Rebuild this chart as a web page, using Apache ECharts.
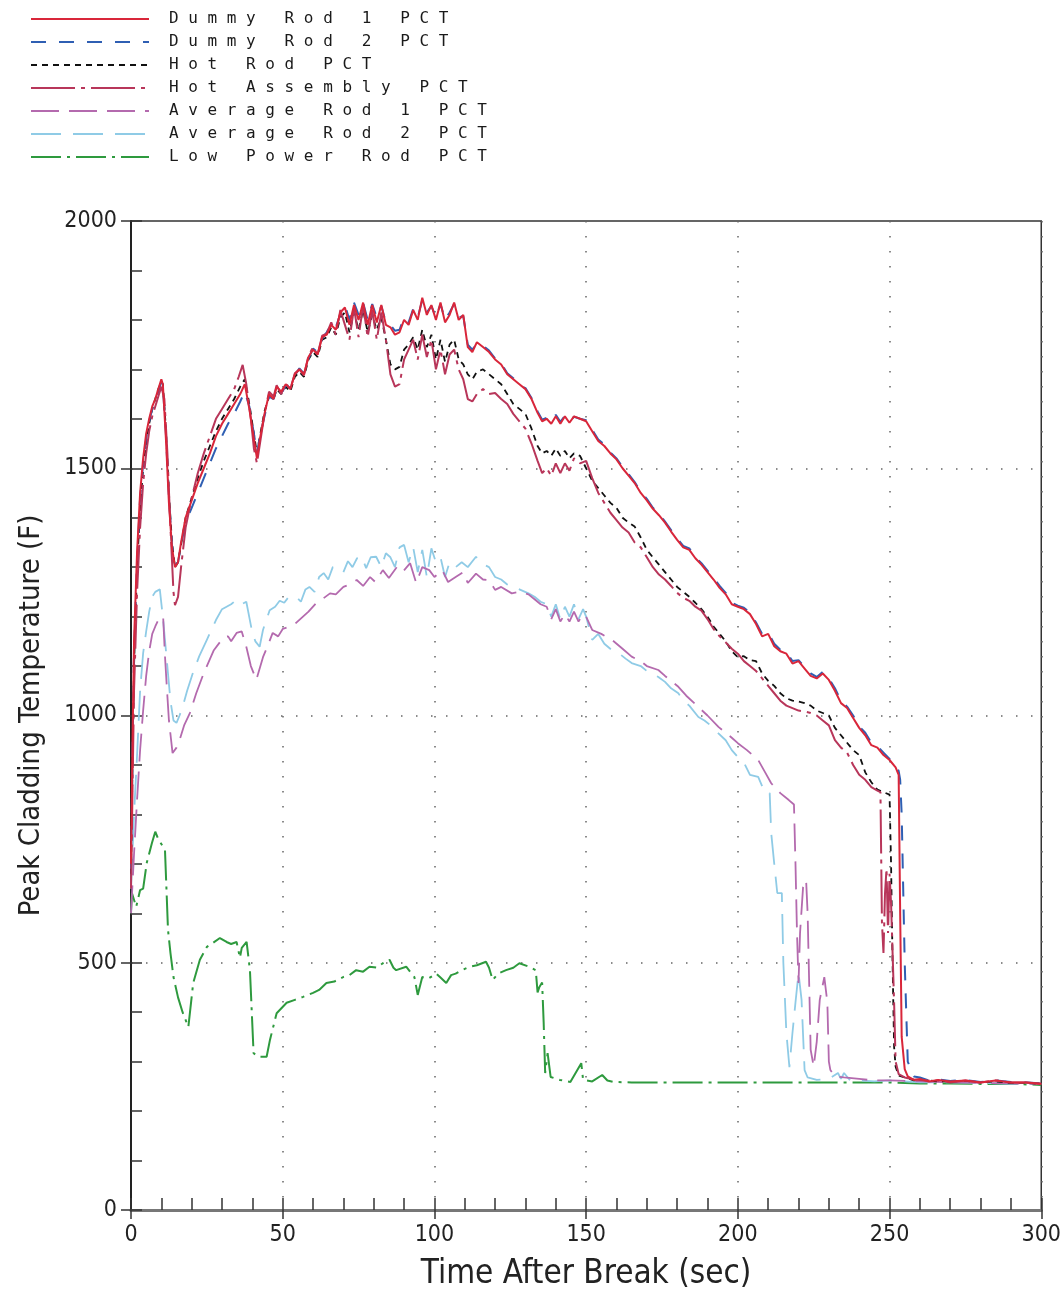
<!DOCTYPE html>
<html><head><meta charset="utf-8">
<script src="https://cdn.jsdelivr.net/npm/echarts@6/dist/echarts.min.js"></script>
<style>html,body{margin:0;padding:0;background:#fff}#c{width:1064px;height:1298px}</style>
</head><body><div id="c"></div>
<script>
// ---------------- DATA ----------------
const seriesNames = ['Dummy Rod 1 PCT','Dummy Rod 2 PCT','Hot Rod PCT','Hot Assembly PCT','Average Rod 1 PCT','Average Rod 2 PCT','Low Power Rod PCT'];
const xTickLabels = [0,50,100,150,200,250,300];
const yTickLabels = [0,500,1000,1500,2000];

const dummyT = [0,0.5,1,2,3,4,5,6,7,8,9,10,
  10.5,11.5,12.5,13.5,14.5,15.5,16.5,18,
  20,22,24,26,28,30,32,34,36,
  37.5,39,40.5,41.5,42.5,44,45.5,47,48,49.5,
  51,52.5,54,55.5,57,58.5,60,61.5,63,64.5,
  66,67.5,69,70.5,72,73.5,75,76.5,78,79.5,
  81,82.5,84,85.5,87,88.5,90,91.5,93,94.5,
  96,97.5,99,100.5,102,103.5,105,106.5,108,109.5,
  111,112.5,114,116,118,120,122,124,126,128,
  130,132,134,135.5,137,138.5,140,141.5,143,144.5,
  146,148,150,152,154,156,158,160,162,164,
  166,168,170,172,174,176,178,180,182,184,
  186,188,190,192,194,196,198,200,202,204,
  206,208,210,212,214,216,218,220,222,224,
  226,228,230,232,234,236,238,240,242,244,
  246,248,250,252,253,253.5,254,255,256,258,
  260,263,266,270,275,280,285,290,295,300];
const dummy1V = [700,950,1150,1330,1450,1520,1570,1600,1625,1640,1660,1680,
  1670,1560,1430,1340,1300,1310,1350,1400,
  1435,1470,1500,1530,1565,1590,1610,1630,1650,
  1670,1620,1560,1520,1560,1610,1650,1640,1665,1655,
  1670,1660,1690,1700,1690,1725,1740,1730,1765,1770,
  1790,1780,1815,1825,1790,1830,1800,1835,1790,1830,
  1795,1830,1790,1785,1770,1775,1800,1790,1820,1800,
  1845,1810,1830,1800,1835,1795,1810,1835,1800,1810,
  1745,1735,1755,1745,1735,1720,1710,1690,1680,1670,
  1660,1640,1612,1595,1600,1590,1605,1590,1605,1592,
  1605,1600,1595,1575,1555,1545,1530,1518,1500,1485,
  1470,1450,1435,1418,1405,1390,1372,1355,1340,1335,
  1318,1305,1290,1275,1258,1245,1225,1220,1215,1205,
  1185,1160,1165,1140,1130,1125,1105,1110,1095,1080,
  1075,1085,1072,1050,1025,1015,995,975,960,940,
  935,920,910,895,880,600,350,285,270,263,
  265,260,263,260,262,258,262,258,258,255];
const dummy2V = [690,930,1130,1310,1440,1510,1560,1595,1620,1635,1655,1675,
  1665,1570,1440,1345,1305,1310,1345,1390,
  1420,1450,1480,1510,1540,1565,1590,1610,1635,
  1655,1625,1570,1530,1565,1605,1645,1640,1660,1650,
  1668,1662,1688,1702,1692,1722,1742,1735,1762,1775,
  1792,1785,1812,1830,1800,1835,1810,1835,1800,1832,
  1805,1828,1795,1790,1778,1780,1805,1795,1822,1805,
  1840,1815,1828,1805,1832,1800,1815,1832,1805,1808,
  1750,1740,1752,1748,1738,1722,1712,1692,1682,1668,
  1662,1642,1615,1598,1602,1595,1608,1594,1606,1595,
  1604,1600,1597,1578,1558,1548,1532,1520,1503,1488,
  1472,1452,1438,1420,1408,1392,1375,1358,1343,1338,
  1320,1308,1293,1278,1262,1248,1228,1222,1218,1208,
  1188,1165,1168,1145,1133,1128,1110,1112,1098,1085,
  1078,1088,1075,1055,1030,1018,1000,978,965,945,
  938,925,912,898,888,870,800,500,300,270,
  268,262,264,261,263,259,262,259,258,256];

const hotRodT = [0,0.5,1,2,3,4,5,6,7,8,9,10,
  10.5,11.5,12.5,13.5,14.5,15.5,16.5,18,
  20,22,24,26,28,30,32,34,36,
  37.5,39,40.5,41.5,42.5,44,45.5,47,48,49.5,
  51,52.5,54,55.5,57,58.5,60,61.5,63,64.5,
  66,67.5,69,70.5,72,73.5,75,76.5,78,79.5,
  81,82.5,84,85.5,87,88.5,90,91.5,93,94.5,
  96,97.5,99,100.5,102,103.5,105,106.5,108,109.5,
  111,112.5,114,116,118,120,122,124,126,128,
  130,132,134,135.5,137,138.5,140,141.5,143,144.5,
  146,148,150,152,154,156,158,160,162,164,
  166,168,170,172,174,176,178,180,182,184,
  186,188,190,192,194,196,198,200,202,204,
  206,208,210,212,214,216,218,220,222,224,
  226,228,230,232,234,236,238,240,242,244,
  246,248,250,250.5,251,251.5,252,253,255,258,
  262,266,270,275,280,285,290,295,300];
const hotRodV = [680,900,1100,1300,1420,1500,1550,1590,1620,1640,1660,1675,
  1670,1580,1450,1350,1300,1310,1345,1400,
  1440,1480,1515,1545,1575,1600,1620,1640,1665,
  1680,1630,1570,1530,1565,1615,1645,1640,1660,1650,
  1665,1655,1685,1695,1685,1720,1735,1725,1760,1765,
  1785,1770,1805,1815,1775,1815,1780,1820,1775,1810,
  1780,1805,1760,1710,1700,1705,1740,1750,1765,1740,
  1780,1745,1770,1720,1760,1715,1750,1760,1720,1710,
  1690,1680,1695,1700,1690,1680,1670,1650,1630,1620,
  1610,1580,1545,1530,1535,1525,1540,1525,1535,1520,
  1530,1525,1500,1475,1460,1445,1430,1420,1400,1390,
  1382,1360,1335,1320,1305,1290,1275,1260,1250,1240,
  1228,1215,1200,1180,1165,1150,1130,1118,1120,1112,
  1110,1085,1070,1060,1045,1035,1030,1028,1025,1020,
  1010,1005,1000,975,960,945,930,920,885,865,
  850,845,840,700,500,330,290,272,268,262,
  263,260,260,261,258,260,257,257,255];

const hotAsmT = [0,0.5,1,2,3,4,5,6,7,8,9,10,
  11,12,13,14,14.5,15.5,16.5,18,
  20,22,24,26,28,30,32,34,
  35.5,36.8,38,39.5,40.5,41.5,42.5,44,45.5,47,
  48,49.5,51,52.5,54,55.5,57,58.5,60,61.5,
  63,64.5,66,67.5,69,70.5,72,73.5,75,76.5,
  78,79.5,81,82.5,84,85.5,87,88.5,90,91.5,
  93,94.5,96,97.5,99,100.5,102,103.5,105,106.5,
  108,109.5,111,112.5,114,116,118,120,122,124,
  126,128,130,132,134,135.5,137,138.5,140,141.5,
  143,144.5,146,148,150,152,154,156,158,160,
  162,164,166,168,170,172,174,176,178,180,
  182,184,186,188,190,192,194,196,198,200,
  202,204,206,208,210,212,214,216,218,220,
  222,224,226,228,230,232,234,236,238,240,
  242,244,246,247,247.5,248,248.5,249,249.5,250,
  250.5,251,251.5,252,253,255,258,262,266,270,
  275,280,285,290,295,300];
const hotAsmV = [650,850,1050,1250,1380,1470,1530,1575,1605,1625,1645,1665,
  1640,1530,1380,1250,1223,1240,1300,1380,
  1440,1490,1530,1565,1600,1620,1640,1660,
  1685,1709,1670,1600,1540,1510,1550,1610,1655,1645,
  1668,1650,1672,1660,1692,1700,1688,1728,1745,1730,
  1768,1772,1795,1770,1820,1790,1760,1825,1765,1830,
  1765,1820,1760,1815,1760,1690,1665,1670,1720,1740,
  1760,1720,1770,1725,1760,1700,1740,1690,1730,1740,
  1700,1680,1640,1635,1650,1660,1650,1652,1640,1630,
  1610,1595,1580,1550,1515,1490,1500,1485,1510,1490,
  1510,1495,1520,1510,1515,1480,1450,1430,1410,1395,
  1380,1370,1350,1340,1320,1300,1285,1275,1262,1248,
  1238,1232,1220,1212,1195,1175,1160,1148,1135,1125,
  1110,1100,1090,1075,1060,1045,1030,1020,1015,1010,
  1008,1005,1000,990,980,950,935,925,900,880,
  870,855,848,845,580,520,640,690,560,680,
  620,520,420,300,275,268,264,262,262,258,
  262,258,262,258,258,256];

const avg1T = [0,1,2,3,4,5,6,7,8,9.5,
  10.6,11.2,11.8,12.5,13.7,15,16,17.5,19.4,21.5,
  24,27.3,30.6,32,33,34.8,36.5,38,39.5,41.3,
  43.5,45,46.7,48.5,50,52,54,56.5,58.5,61,
  63,65.6,67.5,70,72,74.4,76.5,78.8,80.5,83,
  85,87.6,89.5,92,94,96,98.3,100,102.6,104.5,
  107,109.5,111,113.7,116,118,120,122,125.5,128,
  131,133,135,137,138.5,140,141.5,143,144.5,146,
  147.5,149,150,152,155,158.5,162,165,168,170,
  173.8,176,178,180.4,183,187,190,193.6,196,198,
  200,203,206.7,209,211,213,214,216.8,218.5,219,
  219.5,220,220.5,221.5,222.5,223,224,225,226,227,
  228.5,229.5,230,230.5,232,235,240,245,250,260,
  270,280,290,300];
const avg1V = [600,720,830,930,1010,1080,1130,1165,1180,1200,
  1199,1120,1058,990,924,935,950,980,1005,1045,
  1086,1132,1159,1160,1150,1167,1170,1139,1100,1072,
  1118,1140,1167,1160,1175,1179,1185,1199,1210,1227,
  1235,1247,1245,1260,1265,1274,1262,1280,1270,1294,
  1278,1300,1290,1308,1268,1300,1294,1280,1294,1270,
  1280,1290,1268,1287,1275,1274,1254,1260,1247,1250,
  1245,1235,1225,1220,1195,1215,1190,1205,1190,1210,
  1190,1205,1200,1173,1165,1153,1135,1119,1110,1100,
  1092,1080,1070,1058,1040,1017,1000,977,965,955,
  944,930,910,885,863,850,843,829,820,700,
  560,459,560,653,667,600,324,290,340,425,
  471,420,300,283,270,268,265,262,262,260,
  258,257,256,255];

const avg2T = [0,1,2,3,4,5,6,7,8,9.5,
  10.6,11.8,13,14,15,16,17,18.5,20.4,22.5,
  25,28,30,31.5,33,34.8,36.5,38,40,41,
  42.4,43.5,45.7,47.5,49,50.5,52,54.5,56,57.5,
  58.8,60.5,62,63.5,65,66.5,68,70,71.5,73,
  74.5,76,77.5,79,80.8,82.5,84,85.5,87,88.5,
  90,91.5,93,94.5,96,97.5,99,100.5,102,103.5,
  105,107,109,111,113.7,115.7,118,120,122,124,
  125.5,128,131,133,135,137,138.5,140,141.5,143,
  144.5,146,147.5,149,150,152,154,156,158.5,161,
  163,165,168,170,173.8,176,178,180.4,182,184,
  187,189,191,193.6,196,198,200,202,204,206.7,
  209,210.5,211,212,213,214.5,215,216,217,218,
  219,220,221,222,223,226,230,233,234,235,
  237,240,245,250,255,260,270,280,290,300];
const avg2V = [650,800,920,1050,1126,1170,1210,1240,1250,1255,
  1193,1112,1030,990,985,1000,1017,1050,1086,1120,
  1153,1193,1215,1220,1225,1234,1225,1230,1167,1150,
  1139,1173,1213,1220,1232,1228,1240,1240,1230,1255,
  1260,1250,1280,1288,1275,1300,1300,1290,1312,1300,
  1318,1322,1298,1320,1321,1300,1328,1320,1300,1340,
  1345,1310,1340,1290,1335,1280,1338,1310,1320,1280,
  1310,1300,1310,1300,1321,1307,1300,1280,1275,1265,
  1260,1255,1247,1240,1230,1225,1200,1225,1195,1220,
  1200,1225,1195,1215,1200,1153,1165,1145,1132,1125,
  1115,1106,1100,1090,1078,1068,1055,1045,1030,1020,
  997,990,980,964,950,930,916,905,880,876,
  843,843,762,700,641,641,500,358,289,358,
  420,479,425,283,268,263,265,277,265,277,
  262,262,260,262,260,258,258,257,255,255];

const lowT = [0,0.3,1.7,3,4,5.2,6.9,8,9,10.5,
  11.2,12.2,13,14,15.5,17,18.9,20.5,22.7,25,
  27,29.3,31.5,33,34.8,35.9,36.5,38.1,39.2,40.4,
  42,44.7,45.8,48,51.3,54,56.7,60,62,64.4,
  67,69.9,72,74.2,76.5,78.6,81,83,85.2,86.5,
  87.4,90.7,93.4,94.5,96,98,100.6,102,103.9,105.5,
  107,109,111.6,114,117,118,119.2,121,123.6,126,
  128,131.2,133.4,134,134.6,135.5,136,136.5,137.3,138.3,
  141.4,144.8,148.4,149,152,155.3,157,159,165,170,
  180,190,200,210,220,230,240,250,260,270,
  280,290,300];
const lowV = [600,641,613,647,650,702,742,765,750,735,
  728,566,520,471,430,400,370,459,506,532,
  540,550,542,538,542,510,530,542,485,317,
  310,310,344,398,419,425,431,439,445,459,
  462,471,475,485,482,492,490,499,506,490,
  485,492,471,435,471,468,478,470,459,475,
  478,485,492,495,502,490,465,478,485,490,
  499,492,485,440,451,460,380,277,317,269,
  263,259,297,263,260,273,262,259,258,258,
  258,258,258,258,258,258,258,258,256,256,
  255,255,253];

// ---------------- CHART ----------------
const FONT = "'Liberation Sans Narrow','DejaVu Sans Condensed','Arial Narrow','Liberation Sans',sans-serif";
function zip(T, V) { const n = Math.min(T.length, V.length); const out = []; for (let i = 0; i < n; i++) out.push([T[i], V[i]]); return out; }

const styles = {
  'Dummy Rod 1 PCT':   {color:'#d9263a', type:'solid', width:2, z:8},
  'Dummy Rod 2 PCT':   {color:'#2f5fb3', type:[15,13], width:2, z:6},
  'Hot Rod PCT':       {color:'#111111', type:[6,5], width:1.8, z:5},
  'Hot Assembly PCT':  {color:'#b8365a', type:[44,6,4,6], width:2, z:7},
  'Average Rod 1 PCT': {color:'#b46aae', type:[28,10], width:1.8, z:4},
  'Average Rod 2 PCT': {color:'#8fcbe6', type:[30,12], width:1.8, z:3},
  'Low Power Rod PCT': {color:'#2e9a3e', type:[30,6,3,6], width:2, z:2}
};
const dataMap = {
  'Dummy Rod 1 PCT': zip(dummyT, dummy1V),
  'Dummy Rod 2 PCT': zip(dummyT, dummy2V),
  'Hot Rod PCT': zip(hotRodT, hotRodV),
  'Hot Assembly PCT': zip(hotAsmT, hotAsmV),
  'Average Rod 1 PCT': zip(avg1T, avg1V),
  'Average Rod 2 PCT': zip(avg2T, avg2V),
  'Low Power Rod PCT': zip(lowT, lowV)
};

const series = seriesNames.map(n => ({
  name: n, type: 'line', data: dataMap[n], symbol: 'none', showSymbol: false,
  xAxisIndex: 0, yAxisIndex: 0, z: styles[n].z,
  lineStyle: {color: styles[n].color, type: styles[n].type, width: styles[n].width},
  itemStyle: {color: styles[n].color},
  emphasis: {disabled: true}
}));

const chart = echarts.init(document.getElementById('c'), null, {renderer: 'canvas'});
chart.setOption({
  animation: false,
  backgroundColor: '#ffffff',
  legend: {
    data: seriesNames,
    orient: 'vertical', left: 30, top: 11, padding: 0,
    itemWidth: 118, itemHeight: 14, itemGap: 7,
    selectedMode: false,
    itemStyle: {opacity: 0, borderWidth: 0},
    formatter: name => name.split('').join(' '),
    textStyle: {fontFamily: "'DejaVu Sans Mono','Liberation Mono',monospace", fontSize: 16, color: '#1a1a1a', lineHeight: 14, padding: [0, 0, 0, 15]}
  },
  grid: {left: 131, right: 20, top: 221, bottom: 88, show: true, borderColor: '#333', borderWidth: 1.5, backgroundColor: 'transparent'},
  xAxis: [
    {type: 'value', min: 0, max: 300, interval: 50, position: 'bottom',
     axisLine: {show: true, onZero: false, lineStyle: {color: '#777', width: 3}},
     axisTick: {show: true, inside: false, length: 9, lineStyle: {color: '#333', width: 1.5}},
     axisLabel: {margin: 14, fontSize: 23, color: '#222', fontFamily: FONT,
                 formatter: v => (xTickLabels.indexOf(v) >= 0 ? String(v) : '')},
     splitLine: {show: true, lineStyle: {type: [1.5, 13.5], color: '#666', width: 1.5}},
     name: 'Time After Break (sec)', nameLocation: 'middle', nameGap: 48,
     nameTextStyle: {fontSize: 33, color: '#222', fontFamily: FONT}},
    {type: 'value', min: 0, max: 300, interval: 10, position: 'bottom',
     axisLine: {show: false}, axisTick: {show: true, inside: true, length: 12, lineStyle: {color: '#333', width: 1.5}},
     axisLabel: {show: false}, splitLine: {show: false}}
  ],
  yAxis: [
    {type: 'value', min: 0, max: 2000, interval: 500, position: 'left',
     axisLine: {show: true, onZero: false, lineStyle: {color: '#222', width: 2}},
     axisTick: {show: true, inside: false, length: 10, lineStyle: {color: '#333', width: 1.5}},
     axisLabel: {margin: 14, fontSize: 23, color: '#222', fontFamily: FONT,
                 formatter: v => (yTickLabels.indexOf(v) >= 0 ? String(v) : '')},
     splitLine: {show: true, lineStyle: {type: [1.5, 13.5], color: '#666', width: 1.5}},
     name: 'Peak Cladding Temperature (F)', nameLocation: 'middle', nameGap: 85,
     nameTextStyle: {fontSize: 29, color: '#222', fontFamily: FONT}},
    {type: 'value', min: 0, max: 2000, interval: 100, position: 'left',
     axisLine: {show: false}, axisTick: {show: true, inside: true, length: 11, lineStyle: {color: '#333', width: 1.5}},
     axisLabel: {show: false}, splitLine: {show: false}}
  ],
  series: series
});
</script>
</body></html>
